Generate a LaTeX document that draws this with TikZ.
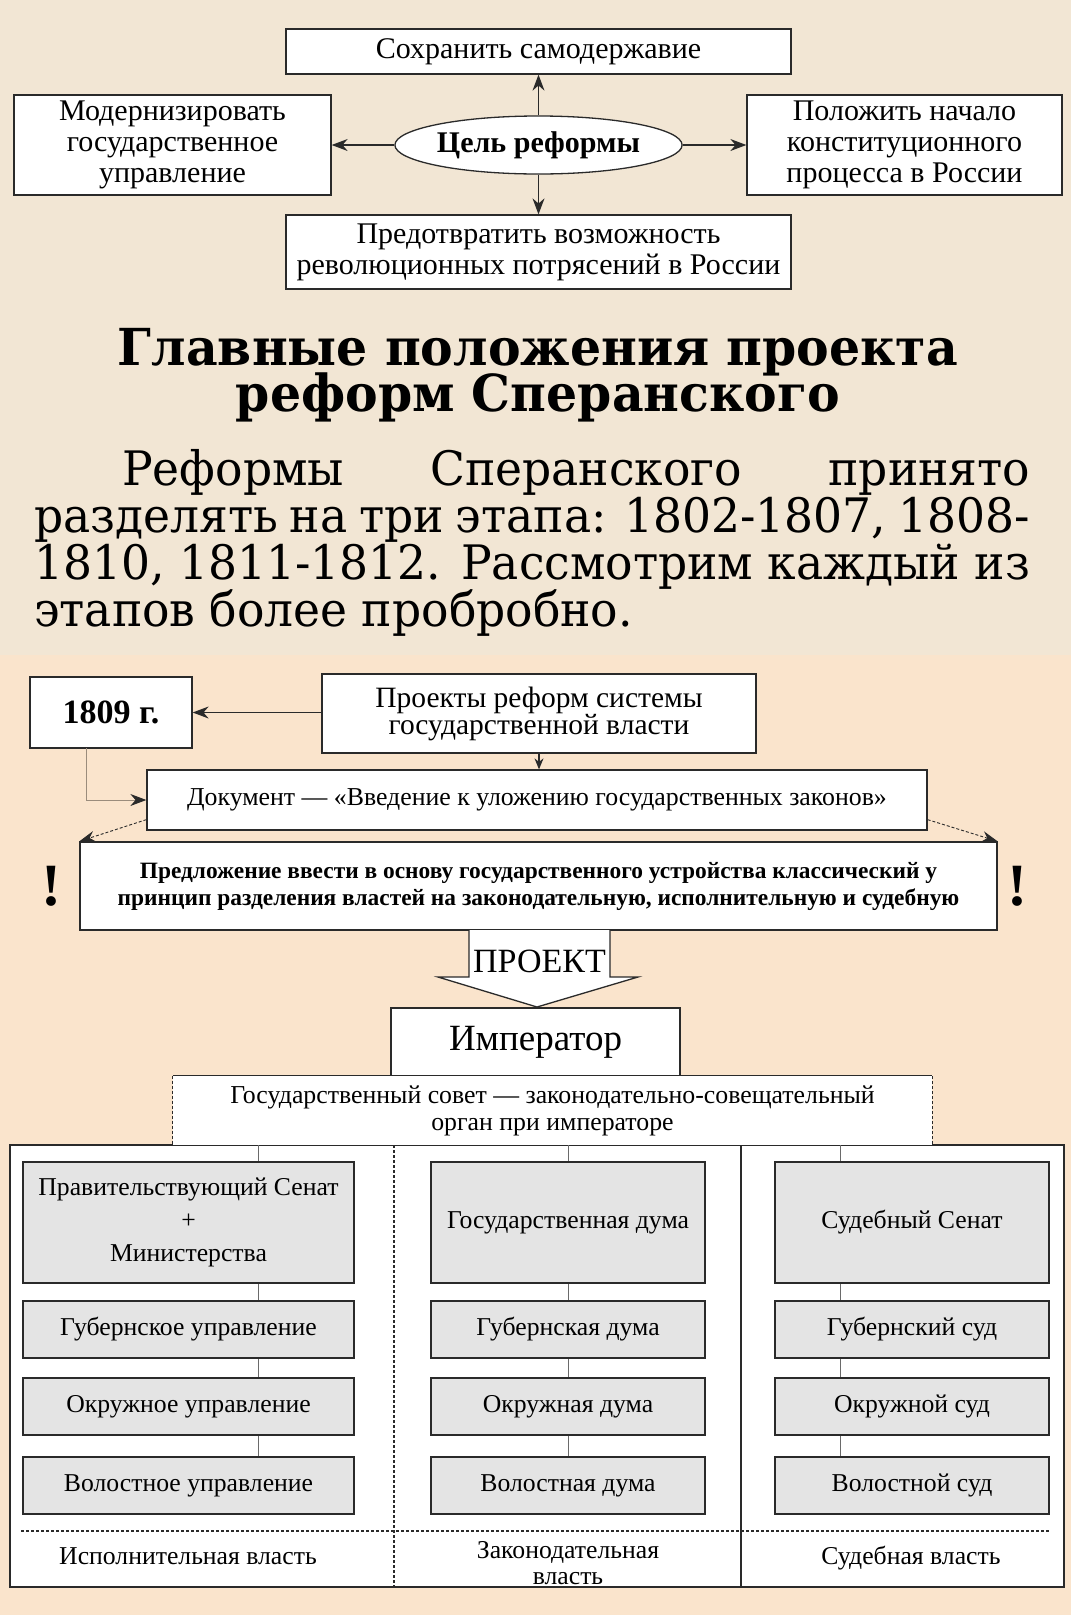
\documentclass[tikz,border=0pt]{standalone}
\usepackage{fontspec}
\setmainfont{Liberation Serif}
\newfontfamily\headfont[FakeStretch=0.96]{DejaVu Serif}
\usetikzlibrary{arrows.meta,calc,positioning,shapes.geometric}

\definecolor{paper}{HTML}{F2E6D4}
\definecolor{peach}{HTML}{FAE4CC}
\definecolor{cellgray}{HTML}{E4E4E4}
\definecolor{ink}{HTML}{2A2A2A}
\definecolor{tieline}{HTML}{9A8C7C}

\newcommand\fsz[2]{\fontsize{#1}{#2}\selectfont}

\tikzset{
  box/.style={draw=ink,line width=1.3pt,fill=white,align=center,inner sep=2pt},
  goalbox/.style={box,font=\fsz{30}{31}},
  cell/.style={box,fill=cellgray,line width=1.6pt,font=\fsz{25.7}{33}},
  arr/.style={-{Stealth[length=16pt,width=12pt]},line width=1.2pt,draw=ink},
  dotarr/.style={-{Stealth[length=16pt,width=11pt]},line width=0.9pt,draw=ink,densely dashed},
  tie/.style={draw=ink!70,line width=0.9pt},
}

\begin{document}
\begin{tikzpicture}[x=1pt,y=-1pt]
  \fill[paper] (0,0) rectangle (1071,655);
  \fill[peach] (0,655) rectangle (1071,1615);
  \useasboundingbox (0,0) rectangle (1071,1615);

  % цели реформы
  \node[goalbox,minimum width=505pt,minimum height=45pt] (keep) at (538.5,51.5) {Сохранить самодержавие};
  \node[goalbox,minimum width=317pt,minimum height=100pt] (modern) at (172.5,145) {Модернизировать\\государственное\\управление};
  \node[box,ellipse,inner sep=0pt,minimum width=257pt,minimum height=58pt,font=\bfseries\fsz{30}{31}] (goal) at (538.5,145) {Цель реформы};
  \node[goalbox,minimum width=315pt,minimum height=100pt] (constit) at (904.5,145) {Положить начало\\конституционного\\процесса в России};
  \node[goalbox,minimum width=505pt,minimum height=74pt] (prevent) at (538.5,252) {Предотвратить возможность\\революционных потрясений в России};
  \foreach \t in {keep,modern,constit,prevent}
    \draw[arr] (goal) -- (\t);

  % заголовок и текст
  \node[font=\headfont\bfseries\fsz{51}{51},anchor=base] (title1) at (538,365) {Главные положения проекта};
  \node[font=\headfont\bfseries\fsz{51}{51},anchor=base] (title2) at (538,411) {реформ Сперанского};
  \node[font=\headfont\fsz{47.5}{47.2},inner sep=0pt,anchor=base west] (intro) at (34,485) {\vtop{\hsize=996pt\spaceskip=.3em plus 1fil minus .17em\relax
    \hbox to\hsize{\hskip 88pt Реформы Сперанского принято}
    \hbox to\hsize{разделять на три этапа: 1802-1807, 1808-}
    \hbox to\hsize{1810, 1811-1812. Рассмотрим каждый из}
    \hbox{этапов более пробробно.}}};

  % проекты 1809 г.
  \node[box,minimum width=162pt,minimum height=71pt,font=\bfseries\fsz{34}{34}] (year) at (111,712.5) {1809 г.};
  \node[box,minimum width=434pt,minimum height=79pt,font=\fsz{29.5}{27}] (proj) at (539,713.5) {Проекты реформ системы\\государственной власти};
  \node[box,minimum width=780pt,minimum height=60pt,font=\fsz{25.8}{27}] (doc) at (537,800) {Документ — «Введение к уложению государственных законов»};
  \node[box,minimum width=917pt,minimum height=88pt,font=\bfseries\fsz{23.4}{27}] (offer) at (538.5,886) {Предложение ввести в основу государственного устройства классический у\\принцип разделения властей на законодательную, исполнительную и судебную};
  \node[font=\bfseries\fsz{60}{60}] (markl) at (51.5,886) {!};
  \node[font=\bfseries\fsz{60}{60}] (markr) at (1017,886) {!};
  \coordinate (yearfoot) at (86,748);
  \draw[arr] (proj.west |- year.east) -- (year.east);
  \draw[arr,-{Stealth[length=11pt,width=9pt]}] (proj.south) -- (proj.south |- doc.north);
  \draw[tie,draw=tieline,-{Stealth[length=16pt,width=12pt,color=ink]}] (yearfoot) |- (doc.west);
  \draw[dotarr] ($(doc.south west)+(0,-11)$) -- (offer.north west);
  \draw[dotarr] ($(doc.south east)+(0,-11)$) -- (offer.north east);

  % стрелка ПРОЕКТ
  \draw[draw=ink,line width=1.3pt,fill=white] (469,930) -- (469,977) -- (438,977) -- (537,1007) -- (638,977) -- (610,977) -- (610,930);
  \node[font=\fsz{34}{34}] (projtag) at (539.5,961) {ПРОЕКТ};

  % схема власти
  \node[box,minimum width=289pt,minimum height=68pt,font=\fsz{37}{37}] (emperor) at (535.5,1042) {Император};
  \draw[draw=ink,line width=1.3pt,fill=white] (10,1145) rectangle (1064,1587);
  \draw[draw=ink,line width=1.1pt,densely dashed] (394,1145) -- (394,1587);
  \draw[draw=ink,line width=1.3pt] (741,1145) -- (741,1587);
  \draw[draw=ink,line width=1.2pt,densely dashed] (21,1531) -- (1050,1531);
  \node[fill=white,minimum width=759pt,minimum height=69pt,align=center,inner sep=2pt,font=\fsz{25.8}{27}] (council) at (552.5,1110.5) {Государственный совет — законодательно-совещательный\\орган при императоре};
  \draw[draw=ink,line width=1.3pt] (council.north west) -- (council.north east);
  \draw[draw=ink,line width=1.1pt,densely dashed] (council.north west) -- (council.south west) -- (council.south east) -- (council.north east);

  \node[cell,minimum width=331pt,minimum height=121pt] (senate) at (188.5,1222.5) {Правительствующий Сенат\\+\\Министерства};
  \node[cell,minimum width=331pt,minimum height=57pt] (gubadm) at (188.5,1329.5) {Губернское управление};
  \node[cell,minimum width=331pt,minimum height=57pt] (okradm) at (188.5,1406.5) {Окружное управление};
  \node[cell,minimum width=331pt,minimum height=57pt] (voladm) at (188.5,1485.5) {Волостное управление};

  \node[cell,minimum width=274pt,minimum height=121pt] (duma) at (568,1222.5) {Государственная дума};
  \node[cell,minimum width=274pt,minimum height=57pt] (gubduma) at (568,1329.5) {Губернская дума};
  \node[cell,minimum width=274pt,minimum height=57pt] (okrduma) at (568,1406.5) {Окружная дума};
  \node[cell,minimum width=274pt,minimum height=57pt] (volduma) at (568,1485.5) {Волостная дума};

  \node[cell,minimum width=274pt,minimum height=121pt] (jsenate) at (912,1222.5) {Судебный Сенат};
  \node[cell,minimum width=274pt,minimum height=57pt] (gubcourt) at (912,1329.5) {Губернский суд};
  \node[cell,minimum width=274pt,minimum height=57pt] (okrcourt) at (912,1406.5) {Окружной суд};
  \node[cell,minimum width=274pt,minimum height=57pt] (volcourt) at (912,1485.5) {Волостной суд};

  \foreach \x/\a/\b/\c/\d in {258/senate/gubadm/okradm/voladm,568/duma/gubduma/okrduma/volduma,840/jsenate/gubcourt/okrcourt/volcourt} {
    \coordinate (top) at (\x,1145);
    \draw[tie] (top) -- (top |- \a.north) (top |- \a.south) -- (top |- \b.north)
      (top |- \b.south) -- (top |- \c.north) (top |- \c.south) -- (top |- \d.north);
  }

  \node[font=\fsz{25.7}{27}] (execlbl) at (188,1556) {Исполнительная власть};
  \node[font=\fsz{25.7}{26},align=center] (legislbl) at (568,1563) {Законодательная\\власть};
  \node[font=\fsz{25.7}{27}] (judlbl) at (911,1558) {Судебная власть};
\end{tikzpicture}
\end{document}
